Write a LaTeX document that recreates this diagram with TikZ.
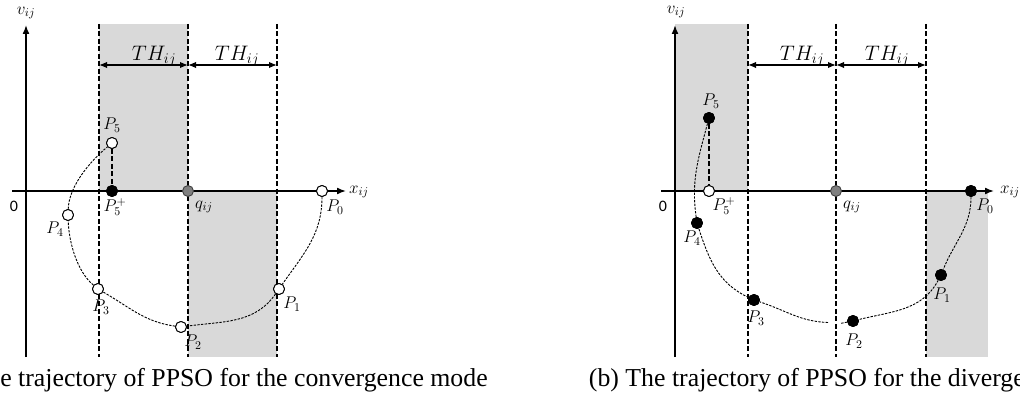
\RequirePackage{fix-cm}
\documentclass[tikz,border=0pt]{standalone}
\usepackage{fontspec}
\setmainfont{Liberation Serif}
\newfontfamily\zerofont{Carlito}
\usetikzlibrary{arrows.meta}
\tikzset{
 axisline/.style={line width=1.6pt, -{Latex[length=9pt,width=7pt]}},
 vline/.style={line width=1.5pt, dash pattern=on 5pt off 2.5pt},
 thline/.style={line width=1.5pt, {Latex[length=8pt,width=6.5pt]}-{Latex[length=8pt,width=6.5pt]}},
 traj/.style={line width=0.9pt, dash pattern=on 2.4pt off 1.3pt},
 dropline/.style={line width=2pt, dash pattern=on 5pt off 2.5pt},
 shadebox/.style={fill=black!15},
 ptbase/.style={circle, draw=black, line width=0.9pt, minimum size=11pt, inner sep=0pt},
 openpt/.style={ptbase, fill=white},
 fullpt/.style={ptbase, fill=black},
 qpt/.style={ptbase, fill=black!50, draw=black!75},
 lab/.style={inner sep=0pt, font=\fontsize{17}{17}\selectfont},
 thlab/.style={inner sep=0pt, font=\fontsize{21}{21}\selectfont},
 zerolab/.style={inner sep=0pt, font=\zerofont\fontsize{16}{16}\selectfont},
 caplab/.style={inner sep=0pt, font=\fontsize{25.8}{25.8}\selectfont},
}
\begin{document}
\begin{tikzpicture}[x=1pt,y=1pt]
\useasboundingbox (0,0) rectangle (1020,-403);
\clip (0,0) rectangle (1020,-403);

% ================= LEFT PANEL =================
\fill[shadebox] (99,-24) rectangle (188,-191);
\fill[shadebox] (188,-191) rectangle (277,-357);

\coordinate (la1) at (99,-24);  \coordinate (lb1) at (99,-357);
\coordinate (la2) at (188,-24); \coordinate (lb2) at (188,-357);
\coordinate (la3) at (277,-24); \coordinate (lb3) at (277,-357);
\draw[vline] (la1) -- (lb1);
\draw[vline] (la2) -- (lb2);
\draw[vline] (la3) -- (lb3);

\coordinate (lys) at (26,-357); \coordinate (lye) at (26,-25);
\coordinate (lxs) at (12,-191); \coordinate (lxe) at (346,-191);
\draw[axisline] (lys) -- (lye);
\draw[axisline] (lxs) -- (lxe);

\coordinate (lt1) at (99,-65); \coordinate (lt2) at (188,-65); \coordinate (lt3) at (277,-65);
\draw[thline] (lt1) -- (lt2);
\draw[thline] (lt2) -- (lt3);

\node[openpt] (lp0) at (322,-191) {};
\node[openpt] (lp1) at (279,-289) {};
\node[openpt] (lp2) at (181,-327) {};
\node[openpt] (lp3) at (98,-289) {};
\node[openpt] (lp4) at (68,-215) {};
\node[openpt] (lp5) at (112,-143) {};
\node[fullpt] (lp5p) at (112,-191) {};
\node[qpt] (lq) at (188,-191) {};

\draw[traj] (lp0) to[out=-90,in=55] (lp1)
                  to[out=-125,in=8] (lp2)
                  to[out=172,in=-30] (lp3)
                  to[out=140,in=-88,looseness=0.8] (lp4)
                  to[out=88,in=-140,looseness=0.8] (lp5);
\draw[dropline] (lp5) -- (lp5p);
% redraw markers on top
\node[openpt] at (lp0) {};
\node[openpt] at (lp1) {};
\node[openpt] at (lp2) {};
\node[openpt] at (lp3) {};
\node[openpt] at (lp4) {};
\node[openpt] at (lp5) {};
\node[fullpt] at (lp5p) {};

\node[lab] (lv) at (26,-13) {$v_{ij}$};
\node[lab] (lx) at (359,-192) {$x_{ij}$};
\node[zerolab] (l0) at (14,-206) {0};
\node[thlab] (lth1) at (154,-56) {$TH_{ij}$};
\node[thlab] (lth2) at (237,-56) {$TH_{ij}$};
\node[lab] (llp5) at (112,-125) {$P_5$};
\node[lab] (llp5p) at (115,-207) {$P_5^+$};
\node[lab] (llq) at (204,-207) {$q_{ij}$};
\node[lab] (llp0) at (335,-207) {$P_0$};
\node[lab] (llp1) at (292,-304) {$P_1$};
\node[lab] (llp2) at (193,-342) {$P_2$};
\node[lab] (llp3) at (101,-307) {$P_3$};
\node[lab] (llp4) at (55,-229) {$P_4$};

% ================= RIGHT PANEL =================
\fill[shadebox] (675,-24) rectangle (748,-191);
\fill[shadebox] (926,-191) rectangle (988,-357);

\coordinate (ra1) at (748,-24); \coordinate (rb1) at (748,-357);
\coordinate (ra2) at (836,-24); \coordinate (rb2) at (836,-357);
\coordinate (ra3) at (926,-24); \coordinate (rb3) at (926,-357);
\draw[vline] (ra1) -- (rb1);
\draw[vline] (ra2) -- (rb2);
\draw[vline] (ra3) -- (rb3);

\coordinate (rys) at (675,-357); \coordinate (rye) at (675,-25);
\coordinate (rxs) at (661,-191); \coordinate (rxe) at (994,-191);
\draw[axisline] (rys) -- (rye);
\draw[axisline] (rxs) -- (rxe);

\coordinate (rt1) at (748,-65); \coordinate (rt2) at (836,-65); \coordinate (rt3) at (926,-65);
\draw[thline] (rt1) -- (rt2);
\draw[thline] (rt2) -- (rt3);

\node[fullpt] (rp0) at (971,-191) {};
\node[fullpt] (rp1) at (941,-275) {};
\node[fullpt] (rp2) at (853,-321) {};
\node[fullpt] (rp3) at (754,-300) {};
\node[fullpt] (rp4) at (697,-223) {};
\node[fullpt] (rp5) at (709,-118) {};
\node[openpt] (rp5p) at (709,-191) {};
\node[qpt] (rq) at (836,-191) {};

\coordinate (rg1) at (840,-323.5);
\coordinate (rg2) at (828,-322.5);
\draw[traj] (rp0) to[out=-90,in=68] (rp1)
                  to[out=-118,in=14] (rp2);
\draw[traj] (rp2) -- (rg1);
\draw[traj] (rg2) to[out=178,in=-18] (rp3)
                  to[out=155,in=-72] (rp4)
                  to[out=98,in=-105] (rp5);
\draw[dropline] (rp5) -- (rp5p);
\node[fullpt] at (rp0) {};
\node[fullpt] at (rp1) {};
\node[fullpt] at (rp2) {};
\node[fullpt] at (rp3) {};
\node[fullpt] at (rp4) {};
\node[fullpt] at (rp5) {};
\node[openpt] at (rp5p) {};

\node[lab] (rv) at (676,-12) {$v_{ij}$};
\node[lab] (rx) at (1010,-192) {$x_{ij}$};
\node[zerolab] (r0) at (663,-206) {0};
\node[thlab] (rth1) at (802,-56) {$TH_{ij}$};
\node[thlab] (rth2) at (887,-56) {$TH_{ij}$};
\node[lab] (rlp5) at (711,-101) {$P_5$};
\node[lab] (rlp5p) at (724,-206) {$P_5^+$};
\node[lab] (rlq) at (852,-207) {$q_{ij}$};
\node[lab] (rlp0) at (985,-206) {$P_0$};
\node[lab] (rlp1) at (942,-295) {$P_1$};
\node[lab] (rlp2) at (854,-341) {$P_2$};
\node[lab] (rlp3) at (756,-318) {$P_3$};
\node[lab] (rlp4) at (692,-238) {$P_4$};

% ================= CAPTIONS =================
\node[caplab, anchor=base west] (capa) at (18,-386) {\llap{(a) The }trajectory of PPSO for the convergence mode};
\node[caplab, anchor=base west] (capb) at (679,-386) {\llap{(b) The t}rajectory of PPSO for the divergence mode};
\end{tikzpicture}
\end{document}
